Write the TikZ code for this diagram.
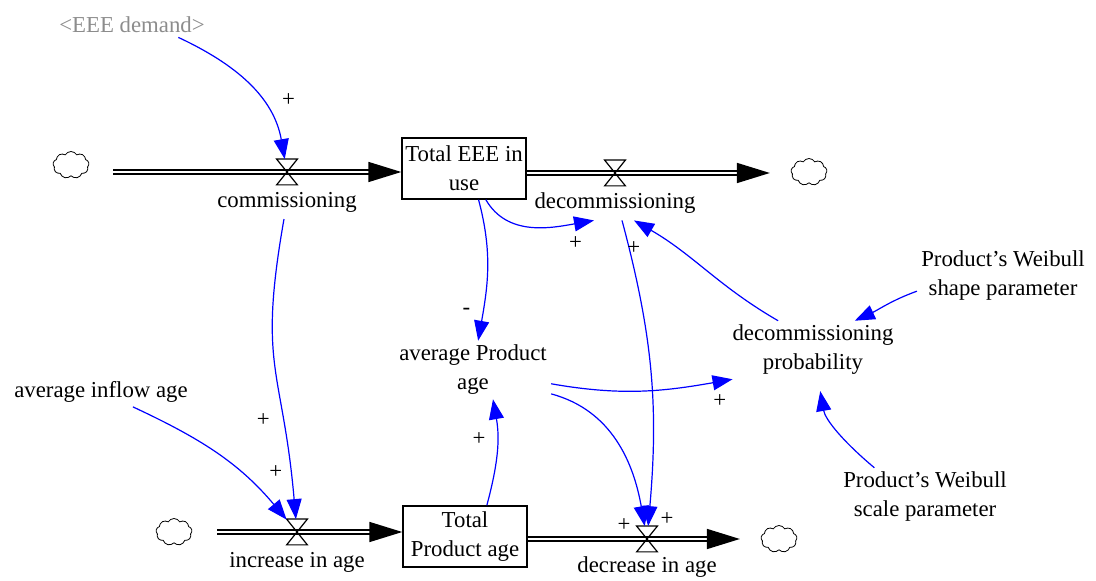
\documentclass[tikz,border=0pt]{standalone}
\usepackage{fontspec}
\setmainfont{Liberation Serif}
\usetikzlibrary{arrows.meta,positioning,shapes.symbols}

\tikzset{
  stock/.style={draw, line width=0.7pt, align=center, minimum width=62pt, minimum height=30.5pt, inner sep=1pt},
  var/.style={align=center, inner sep=2pt},
  valve/.style={inner sep=0pt, minimum width=10pt, minimum height=12.5pt},
  sink/.style={cloud, cloud puffs=9, cloud puff arc=120, aspect=1.3, draw, line width=0.4pt, minimum width=18pt, minimum height=13.5pt, inner sep=0pt},
  pipe/.style={double, line width=0.8pt, double distance=1.2pt, -{Triangle[length=16.5pt,width=10pt]}},
  link/.style={blue, line width=0.6pt, -{Triangle[length=10pt,width=7.5pt]}},
  sign/.style={inner sep=5pt, text=black}
}

\begin{document}
\begin{tikzpicture}[x=0.5pt,y=0.5pt,font=\fontsize{11.4}{14.5}\selectfont,node distance=15pt,on grid,auto]
\useasboundingbox (0,0) rectangle (1096,-581);
% stocks
\node[stock] (eee) at (464,-168.5) {Total EEE in\\use};
\node[stock] (tpa) at (465,-536.5) {Total\\Product age};
% valves and clouds
\node[valve] (comm) at (287,-172) {};
\node[valve] (decomm) at (615,-173) {};
\node[valve] (incr) at (297,-532) {};
\node[valve] (decr) at (647,-539) {};
\node[sink] (cloudA) at (71,-165) {};
\node[sink] (cloudB) at (809,-172) {};
\node[sink] (cloudC) at (174,-532) {};
\node[sink] (cloudD) at (779,-539) {};
\node[below=of comm] (commLbl) {commissioning};
\node[below=of decomm] (decommLbl) {decommissioning};
\node[below=of incr] (incrLbl) {increase in age};
\node[below=14pt of decr] (decrLbl) {decrease in age};
% auxiliaries
\node[var, text=black!45] (demand) at (132,-25) {<EEE demand>};
\node[var] (avgAge) at (473,-370) {average Product\\age};
\node[var] (prob) at (813,-350) {decommissioning\\probability};
\node[var] (shape) at (1003,-276) {Product's Weibull\\shape parameter};
\node[var] (scale) at (925,-497) {Product's Weibull\\scale parameter};
\node[var] (inflow) at (101,-392) {average inflow age};

\draw[pipe, shorten <=12pt] (comm -| cloudA.east) -- (comm -| eee.west);
\draw[pipe, shorten >=10.5pt] (decomm -| eee.east) -- (decomm -| cloudB.west);
\draw[pipe, shorten <=12.5pt] (incr -| cloudC.east) -- (incr -| tpa.west);
\draw[pipe, shorten >=10.5pt] (decr -| tpa.east) -- (decr -| cloudD.west);
\foreach \v in {comm,decomm,incr,decr}
  \draw[line width=0.6pt] (\v.north west) -- (\v.north east) -- (\v.south west) -- (\v.south east) -- cycle;

\path[link]
  (demand.-15) edge[out=-25,in=100] node[sign,pos=.75] {+} (comm)
  (commLbl) edge[out=-100,in=95,looseness=1.3] node[sign,swap,pos=.65] {+} (incr)
  (inflow) edge[out=-25,in=130] node[sign,pos=.8] {+} (incr)
  (eee.-65) edge[out=-75,in=80] node[sign,swap,pos=.9] {-} (avgAge)
  (eee.-55) edge[out=-60,in=190] node[sign,swap,pos=.72] {+} ([xshift=-10.5pt]decommLbl.south)
  ([xshift=3.5pt]decommLbl.south) edge[out=-75,in=85] node[sign,pos=.93] {+} (decr)
  (prob.140) edge[out=150,in=-30] node[sign,pos=.9] {+} ([xshift=9.5pt]decommLbl.south)
  (avgAge.-10) edge[out=-10,in=190] node[sign,swap,pos=.85] {+} (prob.200)
  (avgAge.-17) edge[out=-15,in=100] node[sign,swap,pos=.9] {+} (decr)
  (tpa.55) edge[out=75,in=-80] node[sign,pos=.8] {+} ([xshift=10pt]avgAge.south)
  (shape.190) edge[out=200,in=25] (prob.35)
  (scale.150) edge[out=140,in=-80,shorten >=6pt] (prob.-80);
\end{tikzpicture}
\end{document}
